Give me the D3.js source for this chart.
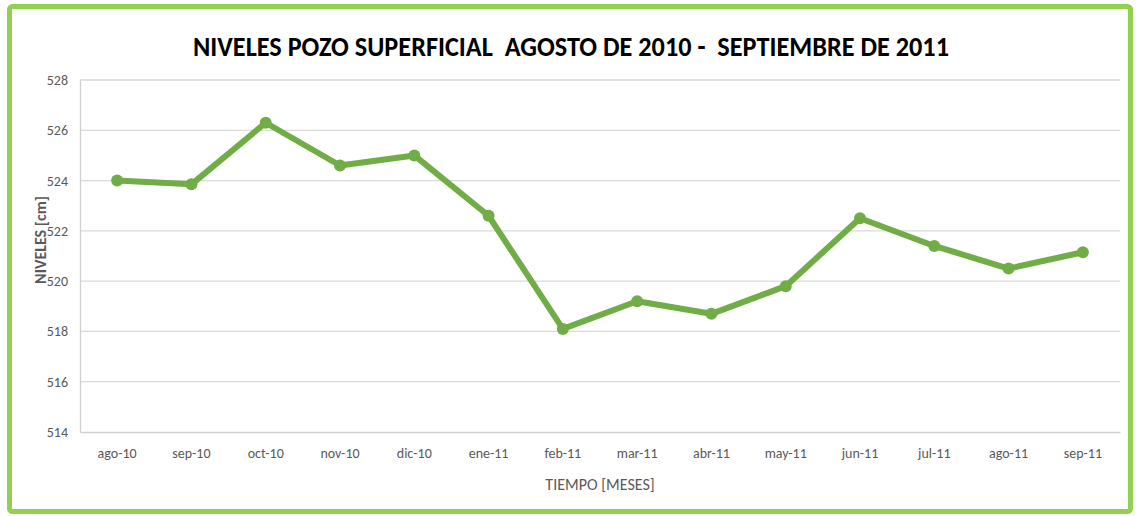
<!DOCTYPE html>
<html>
<head>
<meta charset="utf-8">
<script src="https://d3js.org/d3.v7.min.js"></script>
<style>
  body { margin: 0; background: #fff; }
  svg { display: block; font-family: Calibri, Carlito, Lato, "Open Sans", sans-serif; }
</style>
</head>
<body>
<svg id="chart" width="1137" height="516"></svg>
<script>
// Data
const months = ['ago-10', 'sep-10', 'oct-10', 'nov-10', 'dic-10', 'ene-11', 'feb-11',
                'mar-11', 'abr-11', 'may-11', 'jun-11', 'jul-11', 'ago-11', 'sep-11'];
const niveles = [524.0, 523.85, 526.3, 524.6, 525.0, 522.6, 518.1,
                 519.2, 518.7, 519.8, 522.5, 521.4, 520.5, 521.15];
const yTicks = [514, 516, 518, 520, 522, 524, 526, 528];

const svg = d3.select('#chart');
const margin = {top: 80, right: 17, bottom: 84, left: 80};
const width = 1137 - margin.left - margin.right;
const height = 516 - margin.top - margin.bottom;
const fontFam = 'Calibri, Carlito, Lato, "Open Sans", sans-serif';

// Green frame
svg.append('rect')
  .attr('x', 9.5).attr('y', 6.5)
  .attr('width', 1121).attr('height', 505)
  .attr('rx', 3)
  .attr('fill', 'none')
  .attr('stroke', '#92d050')
  .attr('stroke-width', 5);

// Title
svg.append('text')
  .attr('x', 571).attr('y', 56)
  .attr('text-anchor', 'middle')
  .attr('font-size', 28)
  .attr('font-weight', 'bold')
  .attr('fill', '#000')
  .attr('textLength', 756)
  .attr('lengthAdjust', 'spacingAndGlyphs')
  .style('white-space', 'pre')
  .text('NIVELES POZO SUPERFICIAL  AGOSTO DE 2010 -  SEPTIEMBRE DE 2011');

const g = svg.append('g').attr('transform', `translate(${margin.left},${margin.top})`);

const x = d3.scaleBand().domain(months).range([0, width]);
const y = d3.scaleLinear().domain([514, 528]).range([height, 0]);

// Grid lines
g.append('g')
  .selectAll('line')
  .data(yTicks.slice(1))
  .enter()
  .append('line')
  .attr('x1', 0).attr('x2', width)
  .attr('y1', d => y(d)).attr('y2', d => y(d))
  .attr('stroke', '#d9d9d9')
  .attr('stroke-width', 1.3);

// Axes
const yAxis = g.append('g')
  .call(d3.axisLeft(y).tickValues(yTicks).tickSize(0).tickPadding(12));
yAxis.select('.domain').attr('stroke', '#d0d0d0').attr('stroke-width', 1.3);
yAxis.selectAll('text').attr('font-size', 14).attr('fill', '#595959')
  .style('font-family', fontFam);

const xAxis = g.append('g')
  .attr('transform', `translate(0,${height})`)
  .call(d3.axisBottom(x).tickSize(0).tickPadding(16));
xAxis.select('.domain').attr('stroke', '#d0d0d0').attr('stroke-width', 1.3);
xAxis.selectAll('text').attr('font-size', 14).attr('fill', '#595959')
  .style('font-family', fontFam);

// Axis titles
svg.append('text')
  .attr('transform', 'translate(46,240) rotate(-90)')
  .attr('text-anchor', 'middle')
  .attr('font-size', 16)
  .attr('font-weight', 'bold')
  .attr('fill', '#595959')
  .text('NIVELES [cm]');

svg.append('text')
  .attr('x', 600).attr('y', 490)
  .attr('text-anchor', 'middle')
  .attr('font-size', 16)
  .attr('fill', '#595959')
  .text('TIEMPO [MESES]');

// Line
const cx = (d, i) => x(months[i]) + x.bandwidth() / 2;
const line = d3.line()
  .x(cx)
  .y(d => y(d));

g.append('path')
  .datum(niveles)
  .attr('d', line)
  .attr('fill', 'none')
  .attr('stroke', '#70ad47')
  .attr('stroke-width', 6)
  .attr('stroke-linejoin', 'round');

g.selectAll('.dot')
  .data(niveles)
  .enter()
  .append('circle')
  .attr('class', 'dot')
  .attr('cx', cx)
  .attr('cy', d => y(d))
  .attr('r', 6)
  .attr('fill', '#70ad47');
</script>
</body>
</html>
